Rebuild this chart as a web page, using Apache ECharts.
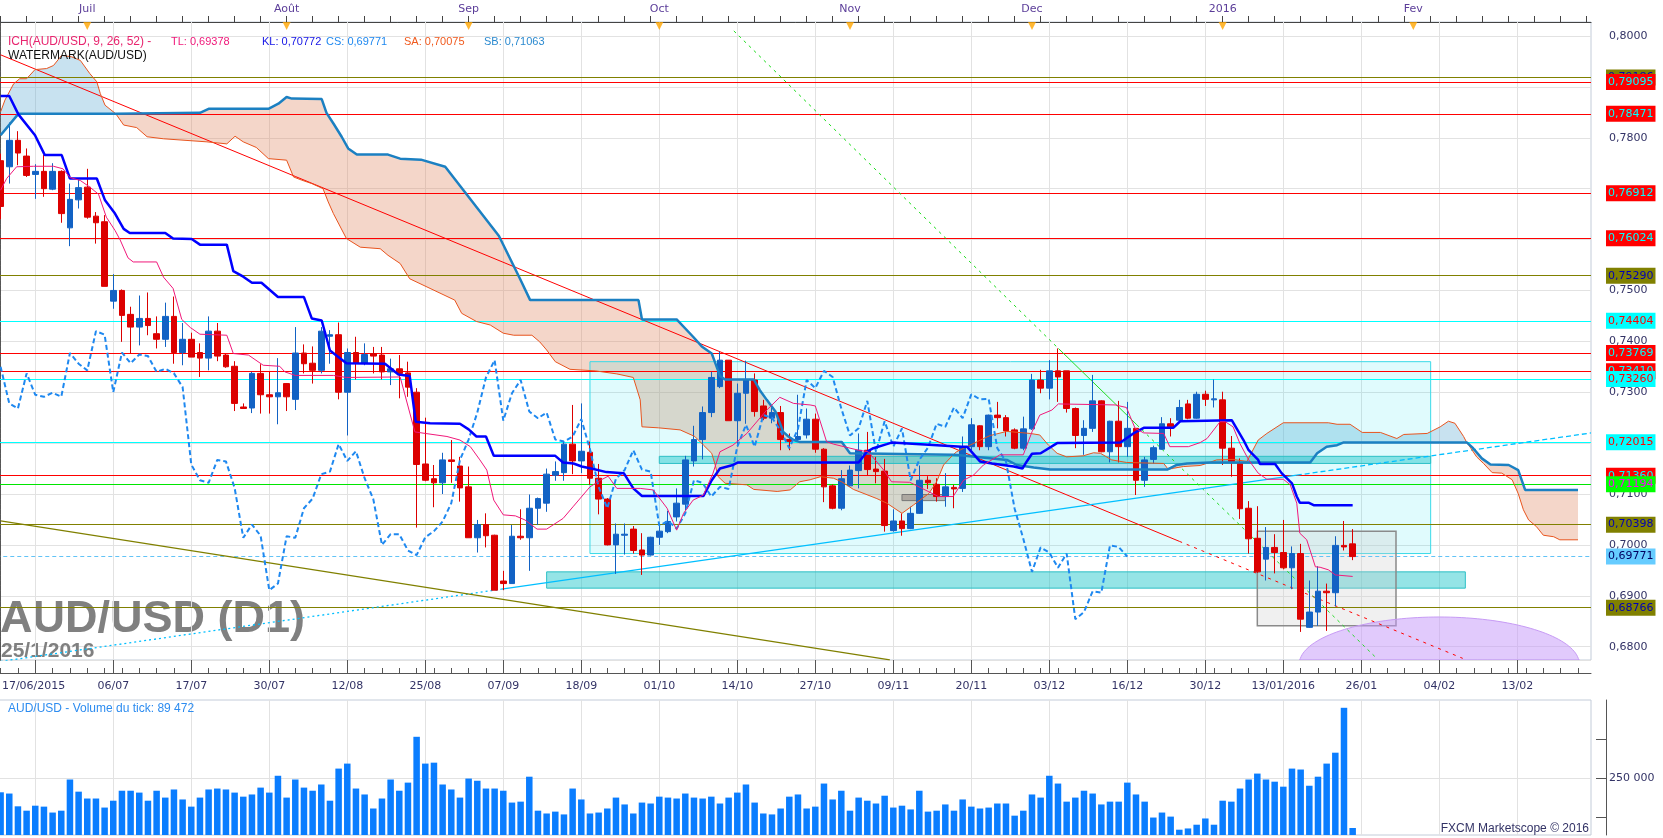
<!DOCTYPE html>
<html><head><meta charset="utf-8">
<script src="https://cdn.jsdelivr.net/npm/echarts@6/dist/echarts.min.js"></script>
<style>html,body{margin:0;padding:0;background:#fff}#c{width:1663px;height:838px}</style>
</head><body><div id="c"></div>
<script>
// ---------- DATA ----------
const open = [0.7755,0.7743,0.7795,0.7764,0.7728,0.7734,0.7699,0.7734,0.7623,0.7678,
0.7703,0.7646,0.7635,0.7479,0.7500,0.7453,0.7428,0.7445,0.7415,0.7404,
0.7449,0.7378,0.7404,0.7378,0.7367,0.7420,0.7373,0.7351,0.7271,0.7269,
0.7337,0.7295,0.7291,0.7317,0.7286,0.7377,0.7357,0.7343,0.7410,0.7413,
0.7300,0.7378,0.7357,0.7376,0.7373,0.7340,0.7346,0.7338,0.7300,0.7159,
0.7130,0.7122,0.7167,0.7155,0.7114,0.7014,0.7040,0.7019,0.6929,0.6924,
0.7017,0.7014,0.7072,0.7082,0.7137,0.7142,0.7198,0.7165,0.7182,0.7131,
0.7090,0.7000,0.7019,0.7031,0.6990,0.6980,0.7015,0.7026,0.7055,0.7080,
0.7165,0.7207,0.7260,0.7311,0.7363,0.7244,0.7298,0.7324,0.7273,0.7249,
0.7260,0.7207,0.7207,0.7216,0.7247,0.7188,0.7116,0.7072,0.7116,0.7146,
0.7186,0.7149,0.7145,0.7028,0.7047,0.7032,0.7062,0.7127,0.7119,0.7095,
0.7113,0.7111,0.7193,0.7234,0.7193,0.7255,0.7250,0.7226,0.7190,0.7228,
0.7324,0.7308,0.7342,0.7342,0.7268,0.7215,0.7229,0.7283,0.7183,0.7243,
0.7193,0.7229,0.7127,0.7168,0.7188,0.7238,0.7245,0.7277,0.7249,0.7296,
0.7285,0.7285,0.7190,0.7160,0.7072,0.7013,0.6972,0.6995,0.6985,0.6955,
0.6983,0.6838,0.6868,0.6909,0.6906,0.6999,0.7002];
const close = [0.7665,0.7795,0.7770,0.7726,0.7734,0.7700,0.7734,0.7651,0.7679,0.7702,
0.7644,0.7633,0.7508,0.7500,0.7451,0.7428,0.7445,0.7431,0.7404,0.7449,
0.7378,0.7404,0.7369,0.7367,0.7420,0.7371,0.7350,0.7278,0.7268,0.7337,
0.7295,0.7291,0.7299,0.7291,0.7377,0.7356,0.7343,0.7420,0.7413,0.7300,
0.7378,0.7357,0.7374,0.7371,0.7340,0.7346,0.7337,0.7310,0.7158,0.7127,
0.7122,0.7167,0.7164,0.7112,0.7014,0.7040,0.7018,0.6911,0.6924,0.7017,
0.7014,0.7072,0.7091,0.7139,0.7144,0.7198,0.7165,0.7184,0.7131,0.7090,
0.7000,0.7021,0.7021,0.6989,0.6980,0.7015,0.7027,0.7046,0.7082,0.7167,
0.7207,0.7260,0.7329,0.7363,0.7244,0.7298,0.7324,0.7262,0.7249,0.7260,
0.7207,0.7203,0.7213,0.7247,0.7188,0.7114,0.7072,0.7130,0.7147,0.7186,
0.7148,0.7144,0.7038,0.7047,0.7032,0.7062,0.7127,0.7122,0.7095,0.7114,
0.7110,0.7193,0.7236,0.7193,0.7255,0.7250,0.7224,0.7190,0.7228,0.7324,
0.7308,0.7342,0.7330,0.7268,0.7215,0.7229,0.7283,0.7183,0.7243,0.7193,
0.7229,0.7127,0.7167,0.7191,0.7238,0.7232,0.7270,0.7249,0.7296,0.7286,
0.7287,0.7190,0.7164,0.7071,0.7012,0.6947,0.6995,0.6985,0.6955,0.6983,
0.6854,0.6868,0.6909,0.6906,0.6999,0.6996,0.6977];
const low = [0.7640,0.7710,0.7746,0.7723,0.7680,0.7684,0.7697,0.7633,0.7587,0.7661,
0.7641,0.7592,0.7508,0.7464,0.7399,0.7376,0.7392,0.7412,0.7386,0.7389,
0.7356,0.7353,0.7369,0.7330,0.7343,0.7361,0.7348,0.7263,0.7267,0.7259,
0.7258,0.7258,0.7237,0.7263,0.7265,0.7337,0.7317,0.7337,0.7356,0.7286,
0.7215,0.7325,0.7353,0.7337,0.7325,0.7314,0.7288,0.7291,0.7034,0.7125,
0.7074,0.7100,0.7122,0.7085,0.7014,0.6985,0.6995,0.6911,0.6911,0.6924,
0.7010,0.6949,0.7039,0.7065,0.7126,0.7126,0.7139,0.7141,0.7118,0.7060,
0.6999,0.6943,0.6981,0.6983,0.6941,0.6979,0.7000,0.7023,0.7046,0.7068,
0.7154,0.7168,0.7251,0.7308,0.7244,0.7193,0.7238,0.7252,0.7245,0.7239,
0.7186,0.7186,0.7203,0.7209,0.7181,0.7084,0.7070,0.7068,0.7114,0.7111,
0.7137,0.7121,0.7026,0.7026,0.7018,0.7031,0.7061,0.7110,0.7085,0.7075,
0.7072,0.7104,0.7186,0.7186,0.7186,0.7229,0.7213,0.7188,0.7186,0.7226,
0.7298,0.7286,0.7281,0.7260,0.7190,0.7177,0.7222,0.7182,0.7162,0.7162,
0.7173,0.7098,0.7114,0.7160,0.7187,0.7213,0.7244,0.7247,0.7248,0.7273,
0.7270,0.7157,0.7134,0.7051,0.6983,0.6945,0.6930,0.6944,0.6952,0.6913,
0.6829,0.6837,0.6841,0.6831,0.6879,0.6989,0.6970];
const high = [0.7769,0.7830,0.7813,0.7779,0.7748,0.7766,0.7750,0.7736,0.7710,0.7718,
0.7739,0.7654,0.7648,0.7532,0.7502,0.7468,0.7490,0.7496,0.7449,0.7476,
0.7488,0.7436,0.7417,0.7396,0.7449,0.7436,0.7375,0.7361,0.7278,0.7340,
0.7355,0.7340,0.7367,0.7318,0.7428,0.7394,0.7390,0.7428,0.7422,0.7437,
0.7386,0.7409,0.7396,0.7389,0.7389,0.7366,0.7373,0.7360,0.7308,0.7250,
0.7157,0.7181,0.7206,0.7173,0.7154,0.7049,0.7062,0.7020,0.6949,0.7039,
0.7070,0.7099,0.7093,0.7150,0.7164,0.7203,0.7275,0.7278,0.7203,0.7159,
0.7092,0.7042,0.7042,0.7037,0.7023,0.7016,0.7039,0.7067,0.7111,0.7175,
0.7234,0.7272,0.7340,0.7380,0.7363,0.7317,0.7362,0.7337,0.7285,0.7273,
0.7273,0.7219,0.7295,0.7268,0.7258,0.7190,0.7119,0.7147,0.7156,0.7219,
0.7222,0.7173,0.7169,0.7070,0.7062,0.7075,0.7156,0.7135,0.7131,0.7141,
0.7118,0.7213,0.7249,0.7235,0.7256,0.7281,0.7255,0.7229,0.7252,0.7336,
0.7344,0.7363,0.7386,0.7342,0.7270,0.7245,0.7334,0.7284,0.7244,0.7283,
0.7281,0.7229,0.7173,0.7195,0.7251,0.7249,0.7285,0.7285,0.7301,0.7303,
0.7325,0.7301,0.7214,0.7170,0.7086,0.7076,0.7035,0.7021,0.7049,0.6997,
0.7002,0.6930,0.6958,0.6924,0.7017,0.7047,0.7031];
const volume = [204000,200000,159000,145000,161000,158000,139000,145000,245000,206000,
184000,184000,155000,177000,209000,209000,203000,177000,209000,187000,
213000,181000,158000,187000,213000,216000,213000,203000,190000,197000,
219000,203000,257000,187000,245000,219000,209000,229000,177000,280000,
296000,216000,197000,152000,184000,245000,209000,235000,382000,296000,
299000,229000,213000,187000,248000,241000,216000,216000,209000,171000,
174000,254000,145000,136000,142000,133000,216000,181000,136000,139000,
152000,187000,165000,136000,171000,168000,190000,187000,184000,200000,
187000,184000,190000,168000,187000,203000,229000,171000,136000,133000,
152000,190000,197000,152000,158000,232000,181000,209000,145000,187000,
177000,168000,193000,155000,161000,149000,209000,142000,145000,165000,
145000,181000,158000,152000,155000,168000,168000,129000,145000,197000,
187000,257000,232000,174000,187000,209000,200000,165000,174000,174000,
235000,197000,174000,123000,139000,126000,84000,88000,100000,120000,
100000,177000,174000,216000,245000,264000,245000,238000,222000,280000,
277000,225000,254000,296000,331000,475000,89472];

// Ichimoku lines as [barIndex, price] points
const tenkan = [[0,0.7697],[0.7,0.7720],[1.85,0.7743],[3.8,0.7744],[6.1,0.7744],[7.2,0.7739],[8,0.7722],[9.2,0.7716],[10.3,0.7703],[11.3,0.7689],[12.2,0.7644],[13.2,0.7618],[13.8,0.7599],[14.7,0.7564],[15.3,0.7556],[18,0.7556],[18.8,0.7526],[19.9,0.7504],[20.9,0.7443],[21.9,0.7427],[23,0.7414],[26.1,0.7412],[26.85,0.7376],[28.6,0.7373],[30.3,0.7353],[32.2,0.7351],[32.8,0.7340],[34,0.7333],[38.4,0.7333],[39.9,0.7329],[46.1,0.7330],[47.8,0.7222],[49,0.7219],[51.5,0.7213],[53,0.7206],[54.2,0.7193],[55.3,0.7167],[56.1,0.7147],[56.9,0.7088],[58,0.7059],[59.4,0.7057],[60.5,0.7049],[61.9,0.7031],[63,0.7031],[64.9,0.7052],[66.1,0.7076],[68,0.7114],[69.2,0.7127],[70.1,0.7135],[71.1,0.7111],[73.8,0.7111],[75.3,0.7108],[76.9,0.7072],[78,0.7029],[78.8,0.7062],[79.9,0.7088],[81.1,0.7098],[82.2,0.7141],[83,0.7183],[84.5,0.7196],[86.1,0.7219],[88.4,0.7265],[89.9,0.7290],[91.5,0.7278],[93.4,0.7275],[94,0.7273],[95.3,0.7203],[96.1,0.7198],[99,0.7186],[100.1,0.7183],[101.9,0.7147],[102.8,0.7124],[104.9,0.7123],[108.2,0.7095],[109.9,0.7095],[111.1,0.7127],[112.25,0.7137],[113.4,0.7157],[115.3,0.7177],[118,0.7177],[119,0.7222],[119.9,0.7255],[121.3,0.7265],[122.05,0.7277],[128.6,0.7275],[129.9,0.7270],[130.9,0.7229],[131.9,0.7220],[134.2,0.7219],[134.9,0.7193],[137.05,0.7193],[138.4,0.7201],[139.2,0.7209],[140.7,0.7242],[141.3,0.7242],[142.2,0.7232],[143,0.7199],[144,0.7167],[145.1,0.7141],[146.1,0.7129],[148,0.7129],[148.8,0.7118],[149.55,0.7082],[149.9,0.7023],[150.7,0.7010],[151.7,0.6957],[152.25,0.6956],[153.2,0.6951],[154,0.6941],[156,0.6938]];
const kijun = [[0,0.7882],[1,0.7882],[2.05,0.7846],[3.97,0.7805],[5.1,0.7766],[7.05,0.7766],[8,0.7720],[11.1,0.7720],[12.05,0.7677],[13.2,0.7651],[14.2,0.7621],[14.9,0.7613],[19,0.7613],[19.9,0.7602],[22.05,0.7601],[23,0.7590],[26.1,0.7590],[26.85,0.7538],[28,0.7527],[29,0.7515],[30.1,0.7515],[32,0.7487],[35,0.7487],[35.9,0.7445],[37.05,0.7441],[38,0.7382],[39.9,0.7357],[44.35,0.7356],[45.9,0.7335],[47.2,0.7332],[47.9,0.7242],[49.55,0.7239],[53,0.7238],[54,0.7227],[54.9,0.7213],[56,0.7213],[56.9,0.7175],[64,0.7175],[64.9,0.7162],[66.1,0.7160],[67.05,0.7154],[68.4,0.7149],[69.9,0.7143],[71.9,0.7141],[73,0.7111],[74,0.7096],[81.1,0.7096],[82.05,0.7127],[83,0.7150],[84.5,0.7157],[85.1,0.7162],[99,0.7162],[99.95,0.7183],[100.7,0.7190],[102.25,0.7198],[102.8,0.7201],[110.9,0.7193],[111.5,0.7193],[113,0.7164],[114.4,0.7160],[116.9,0.7154],[117.9,0.7150],[118.4,0.7164],[119,0.7179],[120,0.7180],[121.9,0.7200],[129.2,0.7201],[130.7,0.7219],[131.9,0.7230],[135.3,0.7230],[136.1,0.7243],[142.05,0.7245],[143.4,0.7206],[144,0.7186],[145.1,0.7167],[145.3,0.7159],[147.05,0.7159],[147.8,0.7141],[149,0.7121],[149.55,0.7095],[149.9,0.7083],[150.9,0.7083],[151.5,0.7078],[156,0.7078]];
const senkouA = [[0,0.7851],[0.5,0.7874],[1.5,0.7906],[2.2,0.7916],[3,0.7916],[3.97,0.7934],[5.3,0.7936],[6.1,0.7942],[7.05,0.7962],[8.2,0.7959],[9.2,0.7952],[10.3,0.7926],[11.1,0.7910],[11.5,0.7887],[12.05,0.7864],[13.3,0.7847],[14.2,0.7825],[15.7,0.7820],[16.9,0.7802],[18.8,0.7798],[23.8,0.7792],[26.1,0.7788],[27.05,0.7803],[28,0.7792],[29.5,0.7781],[30.9,0.7759],[33,0.7756],[33.8,0.7723],[34.7,0.7717],[35.9,0.7710],[37.2,0.7700],[37.8,0.7674],[38.4,0.7651],[39.9,0.7602],[41.5,0.7585],[43.8,0.7582],[44.7,0.7569],[46.1,0.7553],[47.2,0.7523],[52.4,0.7481],[53.2,0.7455],[54.9,0.7439],[56.5,0.7432],[58,0.7416],[59.2,0.7412],[61.3,0.7412],[62.2,0.7399],[63,0.7383],[64,0.7360],[65.7,0.7345],[68.6,0.7342],[71.1,0.7336],[73,0.7329],[73.8,0.7285],[74,0.7232],[75.9,0.7230],[78.4,0.7226],[80.1,0.7213],[81.1,0.7196],[82.05,0.7180],[82.4,0.7160],[82.8,0.7134],[83.6,0.7121],[86.1,0.7118],[86.9,0.7109],[89.6,0.7105],[91.1,0.7108],[92.2,0.7124],[93.4,0.7128],[94.6,0.7134],[96.1,0.7131],[97.05,0.7124],[98.4,0.7109],[101.1,0.7091],[102.25,0.7082],[104,0.7062],[105.3,0.7078],[107.1,0.7101],[108,0.7124],[108.8,0.7157],[109.9,0.7177],[110.3,0.7183],[111.5,0.7193],[113.4,0.7209],[114.2,0.7215],[116.1,0.7223],[118.8,0.7219],[119.9,0.7216],[120.9,0.7196],[121.9,0.7180],[123,0.7173],[124.9,0.7175],[126.1,0.7181],[126.9,0.7180],[128.2,0.7167],[129.9,0.7162],[134.2,0.7160],[134.7,0.7149],[134.9,0.7147],[136.5,0.7154],[138.4,0.7156],[139.5,0.7162],[140.3,0.7167],[142.2,0.7168],[143.8,0.7164],[144.2,0.7177],[145.1,0.7206],[146.1,0.7219],[148,0.7240],[153.2,0.7240],[154.2,0.7237],[155.7,0.7237],[157.1,0.7221],[159.2,0.7221],[161.1,0.7209],[161.9,0.7217],[164.6,0.7219],[166.1,0.7232],[167.05,0.7243],[167.8,0.7239],[168.8,0.7213],[169.2,0.7200],[169.4,0.7196],[170.3,0.7173],[171.1,0.7160],[172.1,0.7142],[173.2,0.7141],[174.4,0.7128],[175.1,0.7101],[175.7,0.7069],[176.3,0.7049],[177.2,0.7036],[178,0.7019],[179.2,0.7016],[179.9,0.7010],[182,0.7010]];
const senkouB = [[0,0.7805],[2.05,0.7847],[13.3,0.7847],[23,0.7849],[24,0.7857],[30.9,0.7857],[32.05,0.7867],[33,0.7880],[33.6,0.7877],[37.05,0.7876],[37.6,0.7849],[38.4,0.7828],[39.35,0.7802],[40.1,0.7779],[41.1,0.7767],[44.7,0.7767],[46.1,0.7759],[48.5,0.7757],[51.3,0.7743],[57.5,0.7607],[59.9,0.7524],[61.1,0.7481],[73.6,0.7481],[74,0.7443],[78,0.7443],[79.9,0.7409],[80.9,0.7390],[82.05,0.7376],[82.4,0.7360],[83,0.7332],[83.6,0.7325],[86.9,0.7325],[87.6,0.7304],[88.4,0.7285],[89.4,0.7262],[90.3,0.7222],[90.9,0.7213],[91.5,0.7206],[92.25,0.7202],[97.05,0.7202],[98,0.7180],[109.9,0.7177],[110.7,0.7176],[116.1,0.7167],[117.25,0.7157],[119.2,0.7152],[121.1,0.7148],[134.6,0.7148],[134.7,0.7149],[135.7,0.7157],[136.9,0.7160],[139.5,0.7162],[151.1,0.7162],[151.9,0.7180],[153,0.7193],[154.2,0.7196],[154.9,0.7201],[169.2,0.7201],[169.9,0.7190],[170.9,0.7170],[171.9,0.7158],[174,0.7157],[175.1,0.7147],[175.9,0.7108],[182,0.7108]];
// cloud sections: [from, to, 1 = Senkou A above B]
const cloudSegs = [[0,13.3,1],[13.3,109.9,0],[109.9,134.7,1],[134.7,139.5,0],[139.5,169.2,1],[169.2,182,0]];

// horizontal levels
const levelPrices = [0.79186,0.79095,0.78471,0.76912,0.76024,0.75290,0.74404,0.73769,0.73410,0.73260,0.72015,0.71360,0.71194,0.70398,0.69771,0.68766];
const levelKinds = ['olive','red','red','red','red','olive','cyan','red','red','cyan','cyan','red','green','olive','last','olive'];

// drawn trend lines [barIndex, price]
const redTrend = [[0,0.7963],[136,0.7007],[168.7,0.6777]];
const greenTrend = [[84.6,0.8010],[122.05,0.7386],[131.1,0.7236],[158.6,0.6780]];
const blueTrend = [[0,0.6771],[57.8,0.6913],[149.55,0.7137],[183.5,0.7220]];
const oliveTrend = [[0,0.7047],[102.6,0.6774]];

// drawn rectangles [fromBar, toBar, lowPrice, highPrice]
const zoneRanges = [[68,165,0.6983,0.7360],[76,165,0.7160,0.7174],[63,169,0.6915,0.6947],[145,161,0.6841,0.7027],[104,109,0.7087,0.7099]];
const zoneKinds = ['box','band','band','gray','dark'];
// drawn ellipse [centerBar, centerPrice, halfWidthBars, topPrice]
const ellipse = [166.0, 0.6766, 16.15, 0.68583];

// axis labels
const dateLabels = ['17/06/2015','06/07','17/07','30/07','12/08','25/08','07/09','18/09','01/10','14/10','27/10','09/11','20/11','03/12','16/12','30/12','13/01/2016','26/01','04/02','13/02'];
const dateLabelIdx = [0,13,22,31,40,49,58,67,76,85,94,103,112,121,130,139,148,157,166,175];
const monthNames = ['Juil','Août','Sep','Oct','Nov','Dec','2016','Fev'];
const monthIdx = [10,33,54,76,98,119,141,163];
const priceLabelsShown = [0.80,0.78,0.75,0.74,0.73,0.71,0.70,0.69,0.68];

// ---------- CHART ----------
const N = 184;
const cats = Array.from({length:N}, (_, i) => String(i));
const FONT = 'DejaVu Sans';
const TFONT = '11px "Liberation Sans"';
const YMIN = 0.67738, YMAX = 0.80275;
const gridTicks = Array.from({length:20}, (_, k) => 4 + 9*k);
const isMajor = i => i >= 4 && (i - 4) % 9 === 0;

const levelStyle = {
  red:{line:'#FF0000', bg:'#FF0000', fg:'#00FFFF', type:'solid'},
  olive:{line:'#808000', bg:'#808000', fg:'#0000B4', type:'solid'},
  cyan:{line:'#00FFFF', bg:'#00FFFF', fg:'#FF0000', type:'solid'},
  green:{line:'#00E600', bg:'#00FF00', fg:'#FF00FF', type:'solid'},
  last:{line:'#62C3F6', bg:'#66CCFF', fg:'#000060', type:[4,3]}
};
const zoneStyle = {
  box:{fill:'rgba(0,225,240,0.12)', stroke:'#3ADAE8', lineWidth:1},
  band:{fill:'rgba(20,195,200,0.45)', stroke:'#2EC0C6', lineWidth:1},
  gray:{fill:'rgba(205,205,205,0.3)', stroke:'#8A8A8A', lineWidth:1.5},
  dark:{fill:'rgba(140,130,125,0.55)', stroke:'#777777', lineWidth:1}
};

const series = [];
// vertical grid lines (main)
series.push({type:'line', xAxisIndex:3, yAxisIndex:0, data:[], silent:true, z:1,
  markLine:{silent:true, z:1, precision:6, symbol:['none','none'], animation:false, label:{show:false},
    lineStyle:{color:'#E2E2E2', type:'solid', width:1}, data:gridTicks.map(i => ({xAxis:i}))}});
// Kumo
series.push({type:'custom', xAxisIndex:3, yAxisIndex:0, z:1, silent:true, clip:true,
  data:cloudSegs.map(s => [s[0], s[1], 0.75]), encode:{x:[0,1], y:2},
  renderItem:(params, api) => {
    const s = cloudSegs[params.dataIndex];
    const inSeg = p => p[0] >= s[0]-1e-9 && p[0] <= s[1]+1e-9;
    const a = senkouA.filter(inSeg), b = senkouB.filter(inSeg).reverse();
    const pts = a.concat(b).map(p => api.coord(p));
    return {type:'polygon', shape:{points:pts},
      style:{fill: s[2] ? 'rgba(98,172,212,0.35)' : 'rgba(224,138,101,0.35)'}};
  }});
// rectangles
series.push({type:'custom', xAxisIndex:3, yAxisIndex:0, z:2, silent:true, clip:true,
  data:zoneRanges.map(z => [z[0], z[1], z[2]]), encode:{x:[0,1], y:2},
  renderItem:(params, api) => {
    const z = zoneRanges[params.dataIndex];
    const p0 = api.coord([z[0], z[3]]), p1 = api.coord([z[1], z[2]]);
    return {type:'rect', shape:{x:p0[0], y:p0[1], width:p1[0]-p0[0], height:p1[1]-p0[1]},
      style:zoneStyle[zoneKinds[params.dataIndex]]};
  }});
// ellipse
series.push({type:'custom', xAxisIndex:3, yAxisIndex:0, z:3, silent:true, clip:true,
  data:[[ellipse[0], ellipse[1]]], encode:{x:0, y:1},
  renderItem:(params, api) => {
    const c = api.coord([ellipse[0], ellipse[1]]);
    const r = api.coord([ellipse[0]+ellipse[2], ellipse[1]]);
    const t = api.coord([ellipse[0], ellipse[3]]);
    const rx = r[0]-c[0], ry = c[1]-t[1];
    const bottom = params.coordSys.y + params.coordSys.height;
    const pts = [];
    for (let k = 0; k <= 160; k++) {
      const a = Math.PI*2*k/160;
      pts.push([c[0] + rx*Math.cos(a), Math.min(bottom, c[1] - ry*Math.sin(a))]);
    }
    return {type:'polygon', shape:{points:pts}, style:{fill:'rgba(196,150,250,0.5)', stroke:'#C79BF5', lineWidth:1}};
  }});
// horizontal levels
series.push({type:'line', xAxisIndex:3, yAxisIndex:0, data:[], silent:true, z:6,
  markLine:{silent:true, z:6, precision:6, symbol:['none','none'], animation:false,
    data:levelPrices.map((p, i) => {
      const st = levelStyle[levelKinds[i]];
      return {yAxis:p, lineStyle:{color:st.line, width:1, type:st.type},
        label:{show:true, position:'end', distance:15, formatter:p.toFixed(5).replace('.', ','),
          color:st.fg, backgroundColor:st.bg, padding:[2,2,1,2], fontSize:11, fontFamily:FONT, lineHeight:13}};
    })}});
// trend lines
function addTrend(pts, color, width, types) {
  for (let k = 0; k < pts.length - 1; k++) {
    series.push({type:'line', xAxisIndex:3, yAxisIndex:0, z:7, silent:true, showSymbol:false, symbol:'none',
      data:[pts[k], pts[k+1]], lineStyle:{color, width, type:types[k]}});
  }
}
addTrend(redTrend, '#FF0000', 1, ['solid',[3,5]]);
addTrend(greenTrend, '#22DD22', 1, [[3,4],'solid',[3,4]]);
addTrend(blueTrend, '#00BFFF', 1.3, [[2,3],'solid',[5,3]]);
addTrend(oliveTrend, '#808000', 1.3, ['solid']);
// candles
series.push({type:'candlestick', xAxisIndex:0, yAxisIndex:0, z:10, silent:true, barWidth:6,
  data:open.map((o, i) => [o, close[i], low[i], high[i]]),
  itemStyle:{color:'#1262C4', color0:'#DC0000', borderColor:'#1262C4', borderColor0:'#DC0000', borderWidth:1}});
// Ichimoku lines
function addLine(data, color, width, type) {
  series.push({type:'line', xAxisIndex:3, yAxisIndex:0, z:12, silent:true, showSymbol:false, symbol:'none',
    data, lineStyle:{color, width, type}});
}
addLine(senkouA, '#E8541E', 1, 'solid');
addLine(senkouB, '#1B80C2', 2.5, 'solid');
addLine(close.slice(26).map((v, i) => [i, v]), '#1E88F0', 2, [5,3]);
addLine(kijun, '#0000FF', 2.5, 'solid');
addLine(tenkan, '#F0187A', 1, 'solid');
// month markers
series.push({type:'scatter', xAxisIndex:3, yAxisIndex:0, z:20, silent:true, clip:false,
  data:monthIdx.map(i => [i, YMAX]), symbol:'triangle', symbolSize:[8,8], symbolRotate:180, symbolOffset:[0,4],
  itemStyle:{color:'#FFA500'}});
// volume
series.push({type:'bar', xAxisIndex:1, yAxisIndex:1, z:5, silent:true, barWidth:6.5, data:volume,
  itemStyle:{color:'#0A7DFF'},
  markLine:{silent:true, z:1, precision:6, symbol:['none','none'], animation:false, label:{show:false},
    lineStyle:{color:'#E2E2E2', type:'solid', width:1},
    data:gridTicks.map(i => ({xAxis:i})).concat([{yAxis:250000}])}});

const labelText = {fontSize:11, fontFamily:FONT, color:'#333366'};
const txt = (x, y, text, fill, font, extra) => ({type:'text', x, y, z:100, silent:true,
  style:Object.assign({text, font: font || TFONT, fill, textVerticalAlign:'middle', verticalAlign:'middle'}, extra || {})});
const option = {
  animation:false,
  backgroundColor:'#ffffff',
  grid:[
    {left:-3.73, right:72, top:22, height:638, show:true, borderColor:'#C3CCD9', borderWidth:1, outerBoundsMode:'none', containLabel:false},
    {left:-3.73, right:72, top:700, height:135, show:true, borderColor:'#C3CCD9', borderWidth:1, outerBoundsMode:'none', containLabel:false}
  ],
  xAxis:[
    {type:'category', gridIndex:0, data:cats, position:'bottom', offset:13, boundaryGap:true,
      axisLine:{show:true, lineStyle:{color:'#555'}},
      axisTick:{show:true, inside:true, length:13, alignWithLabel:true, interval:(i) => isMajor(i), lineStyle:{color:'#555'}},
      axisLabel:Object.assign({show:true, margin:8, interval:(i) => dateLabelIdx.indexOf(i) >= 0,
        formatter:(v, i) => { const k = dateLabelIdx.indexOf(i); if (k < 0) return ''; return k === 0 ? '{l|' + dateLabels[0] + '}' : dateLabels[k]; },
        rich:{l:{padding:[0,0,0,66], fontSize:11, fontFamily:FONT, color:'#333366'}}}, labelText),
      splitLine:{show:false}},
    {type:'category', gridIndex:1, data:cats, boundaryGap:true, axisLine:{show:false}, axisTick:{show:false}, axisLabel:{show:false}, splitLine:{show:false}},
    {type:'category', gridIndex:0, data:cats, position:'top', boundaryGap:true,
      axisLine:{show:true, lineStyle:{color:'#444'}},
      axisTick:{show:true, inside:false, length:6, interval:2, alignWithLabel:true, lineStyle:{color:'#444'}},
      axisLabel:{show:true, margin:7, interval:(i) => monthIdx.indexOf(i) >= 0,
        formatter:(v, i) => { const k = monthIdx.indexOf(i); return k < 0 ? '' : monthNames[k]; },
        fontSize:11, fontFamily:FONT, color:'#5B3D99'},
      splitLine:{show:false}},
    {type:'value', gridIndex:0, min:-0.5, max:N-0.5, show:false, splitLine:{show:false}},
    {type:'category', gridIndex:0, data:cats, position:'bottom', offset:13, boundaryGap:true,
      axisLine:{show:false}, axisTick:{show:true, inside:true, length:5, interval:1, alignWithLabel:true, lineStyle:{color:'#555'}},
      axisLabel:{show:false}, splitLine:{show:false}}
  ],
  yAxis:[
    {type:'value', gridIndex:0, position:'right', min:YMIN, max:YMAX, splitNumber:12, offset:15,
      axisLine:{show:true, lineStyle:{color:'#555'}},
      axisTick:{show:true, inside:true, length:15, lineStyle:{color:'#555'}},
      minorTick:{show:true, splitNumber:10, length:5, lineStyle:{color:'#666'}},
      axisLabel:Object.assign({show:true, margin:3, showMinLabel:false, showMaxLabel:false,
        formatter:(v) => priceLabelsShown.some(s => Math.abs(s - v) < 1e-7) ? v.toFixed(4).replace('.', ',') : ''}, labelText),
      splitLine:{show:true, lineStyle:{color:'#E2E2E2'}},
      minorSplitLine:{show:false}},
    {type:'value', gridIndex:1, position:'right', min:67000, max:500000, offset:15,
      axisLine:{show:true, lineStyle:{color:'#555'}},
      axisTick:{show:true, inside:true, length:10, customValues:[125000,250000,375000], lineStyle:{color:'#555'}},
      axisLabel:Object.assign({show:true, margin:3, customValues:[250000], formatter:() => '250 000'}, labelText),
      splitLine:{show:false}}
  ],
  graphic:[
    Object.assign(txt(0, 620, 'AUD/USD (D1)', '#808080', 'bold 45px "Liberation Sans"'), {z:1}),
    Object.assign(txt(1, 651, '25/1/2016', '#808080', 'bold 21px "Liberation Sans"'), {z:1}),
    txt(8, 42, 'ICH(AUD/USD, 9, 26, 52) -', '#E8246E', '12px "Liberation Sans"'),
    txt(171, 42, 'TL: 0,69378', '#F0187A'),
    txt(262, 42, 'KL: 0,70772', '#1414E6'),
    txt(326, 42, 'CS: 0,69771', '#1E88F0'),
    txt(404, 42, 'SA: 0,70075', '#F05A1E'),
    txt(484, 42, 'SB: 0,71063', '#2B8AD0'),
    txt(8, 56, 'WATERMARK(AUD/USD)', '#111111', '12px "Liberation Sans"'),
    txt(8, 709, 'AUD/USD - Volume du tick: 89 472', '#2D8CF0', '12px "Liberation Sans"'),
    txt(1589, 829, 'FXCM Marketscope © 2016', '#333366', '12px "Liberation Sans"', {textAlign:'right', align:'right'})
  ],
  series
};
const chart = echarts.init(document.getElementById('c'), null, {renderer:'canvas', width:1663, height:838});
chart.setOption(option);
</script>
</body></html>
